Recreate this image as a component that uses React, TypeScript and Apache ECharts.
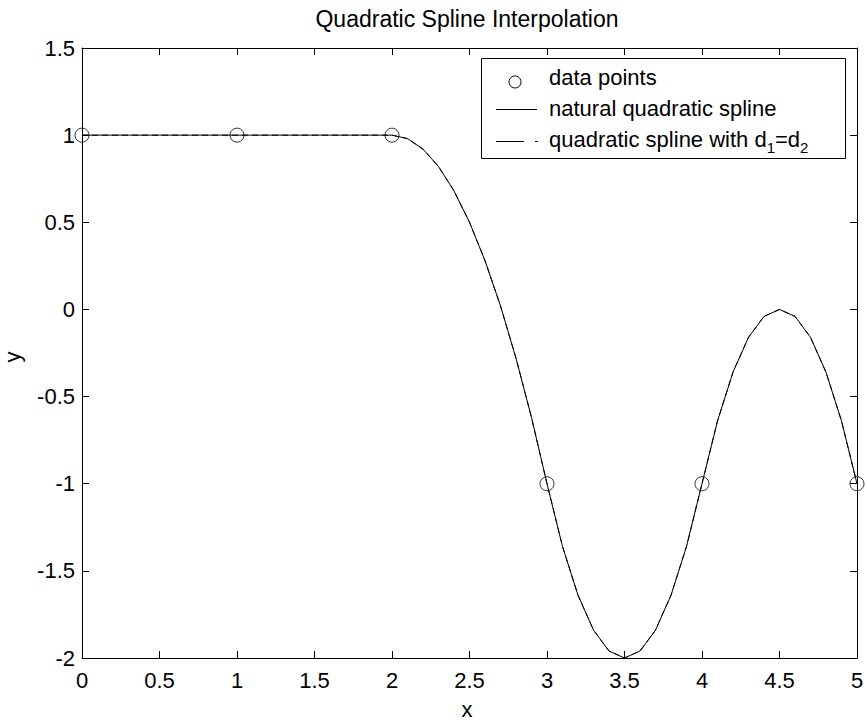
import React, { useEffect, useRef } from "react";
import * as echarts from "echarts";

// Data points
const dataX = [0, 1, 2, 3, 4, 5];
const dataY = [1, 1, 1, -1, -1, -1];

// Spline sample abscissae (step 0.1)
const splineX = [
  0, 0.1, 0.2, 0.3, 0.4, 0.5, 0.6, 0.7, 0.8, 0.9,
  1, 1.1, 1.2, 1.3, 1.4, 1.5, 1.6, 1.7, 1.8, 1.9,
  2, 2.1, 2.2, 2.3, 2.4, 2.5, 2.6, 2.7, 2.8, 2.9,
  3, 3.1, 3.2, 3.3, 3.4, 3.5, 3.6, 3.7, 3.8, 3.9,
  4, 4.1, 4.2, 4.3, 4.4, 4.5, 4.6, 4.7, 4.8, 4.9, 5,
];

// Natural quadratic spline values
const naturalY = [
  1, 1, 1, 1, 1, 1, 1, 1, 1, 1,
  1, 1, 1, 1, 1, 1, 1, 1, 1, 1,
  1, 0.98, 0.92, 0.82, 0.68, 0.5, 0.28, 0.02, -0.28, -0.62,
  -1, -1.36, -1.64, -1.84, -1.96, -2, -1.96, -1.84, -1.64, -1.36,
  -1, -0.64, -0.36, -0.16, -0.04, 0, -0.04, -0.16, -0.36, -0.64, -1,
];

// Quadratic spline with d1 = d2 values
const equalSlopeY = [
  1, 1, 1, 1, 1, 1, 1, 1, 1, 1,
  1, 1, 1, 1, 1, 1, 1, 1, 1, 1,
  1, 0.98, 0.92, 0.82, 0.68, 0.5, 0.28, 0.02, -0.28, -0.62,
  -1, -1.36, -1.64, -1.84, -1.96, -2, -1.96, -1.84, -1.64, -1.36,
  -1, -0.64, -0.36, -0.16, -0.04, 0, -0.04, -0.16, -0.36, -0.64, -1,
];

const xRange = { min: 0, max: 5, interval: 0.5 };
const yRange = { min: -2, max: 1.5, interval: 0.5 };

const titleText = "Quadratic Spline Interpolation";
const xLabelText = "x";
const yLabelText = "y";
const legendNames = ["data points", "natural quadratic spline", "quadratic spline with d1=d2"];

const FONT = "'Liberation Sans', Arial, Helvetica, sans-serif";

export default function App() {
  const ref = useRef<HTMLDivElement>(null);

  useEffect(() => {
    if (!ref.current) return;
    const chart = echarts.init(ref.current, undefined, { renderer: "svg" });

    const axisCommon: any = {
      type: "value",
      axisLine: { show: true, onZero: false, lineStyle: { color: "#000", width: 1 } },
      axisTick: { show: true, inside: true, length: 7, lineStyle: { color: "#000", width: 1 } },
      splitLine: { show: false },
    };

    const option: any = {
      animation: false,
      backgroundColor: "#fff",
      grid: { left: 82, right: 10, top: 48, bottom: 64, containLabel: false, outerBoundsMode: "none" },
      xAxis: [
        {
          ...axisCommon,
          position: "bottom",
          ...xRange,
          axisLabel: { color: "#000", fontSize: 22, fontFamily: FONT, margin: 11 },
        },
        {
          ...axisCommon,
          position: "top",
          ...xRange,
          axisLabel: { show: false },
        },
      ],
      yAxis: [
        {
          ...axisCommon,
          position: "left",
          ...yRange,
          axisLabel: { color: "#000", fontSize: 22, fontFamily: FONT, margin: 7 },
        },
        {
          ...axisCommon,
          position: "right",
          ...yRange,
          axisLabel: { show: false },
        },
      ],
      series: [
        {
          type: "scatter",
          name: legendNames[0],
          data: dataX.map((x, i) => [x, dataY[i]]),
          symbol: "circle",
          symbolSize: 14,
          clip: false,
          silent: true,
          itemStyle: { color: "rgba(0,0,0,0)", borderColor: "#000", borderWidth: 1 },
          z: 2,
        },
        {
          type: "line",
          name: legendNames[1],
          data: splineX.map((x, i) => [x, naturalY[i]]),
          symbol: "none",
          showSymbol: false,
          clip: false,
          silent: true,
          lineStyle: { color: "#000", width: 1 },
          z: 3,
        },
        {
          type: "line",
          name: legendNames[2],
          data: splineX.map((x, i) => [x, equalSlopeY[i]]),
          symbol: "none",
          showSymbol: false,
          clip: false,
          silent: true,
          lineStyle: { color: "#000", width: 1, type: [6, 4] },
          z: 4,
        },
      ],
      graphic: [
        {
          type: "text",
          x: 467,
          y: 19,
          style: { text: titleText, fontSize: 23, fontFamily: FONT, fill: "#000", align: "center", verticalAlign: "middle" },
        },
        {
          type: "text",
          x: 467,
          y: 709,
          style: { text: xLabelText, fontSize: 22, fontFamily: FONT, fill: "#000", align: "center", verticalAlign: "middle" },
        },
        {
          type: "text",
          x: 12,
          y: 357,
          rotation: Math.PI / 2,
          style: { text: yLabelText, fontSize: 22, fontFamily: FONT, fill: "#000", align: "center", verticalAlign: "middle" },
        },
        // Legend box
        {
          type: "rect",
          z: 100,
          shape: { x: 481.5, y: 58.5, width: 364, height: 100 },
          style: { fill: "#fff", stroke: "#000", lineWidth: 1 },
        },
        {
          type: "circle",
          z: 101,
          shape: { cx: 515, cy: 82, r: 6 },
          style: { fill: "none", stroke: "#000", lineWidth: 1 },
        },
        {
          type: "text",
          z: 101,
          x: 549,
          y: 77.5,
          style: { text: legendNames[0], fontSize: 22, fontFamily: FONT, fill: "#000", align: "left", verticalAlign: "middle" },
        },
        {
          type: "line",
          z: 101,
          shape: { x1: 496, y1: 109.5, x2: 537, y2: 109.5 },
          style: { stroke: "#000", lineWidth: 1 },
        },
        {
          type: "text",
          z: 101,
          x: 549,
          y: 108.5,
          style: { text: legendNames[1], fontSize: 22, fontFamily: FONT, fill: "#000", align: "left", verticalAlign: "middle" },
        },
        {
          type: "line",
          z: 101,
          shape: { x1: 496, y1: 141.5, x2: 524, y2: 141.5 },
          style: { stroke: "#000", lineWidth: 1 },
        },
        {
          type: "line",
          z: 101,
          shape: { x1: 535, y1: 141.5, x2: 538, y2: 141.5 },
          style: { stroke: "#000", lineWidth: 1 },
        },
        {
          type: "text",
          z: 101,
          x: 549,
          y: 128,
          style: {
            text: "{n|quadratic spline with d}{s|1}{n|=d}{s|2}",
            fill: "#000",
            align: "left",
            verticalAlign: "top",
            rich: {
              n: { fontSize: 22, fontFamily: FONT, lineHeight: 22, verticalAlign: "top", fill: "#000" },
              s: { fontSize: 15, fontFamily: FONT, lineHeight: 16, padding: [12, 0, 0, 0], verticalAlign: "top", fill: "#000" },
            },
          },
        },
      ],
    };

    chart.setOption(option);
    return () => chart.dispose();
  }, []);

  return (
    <div
      ref={ref}
      style={{ position: "absolute", left: 0, top: 0, width: 867, height: 722 }}
    />
  );
}
